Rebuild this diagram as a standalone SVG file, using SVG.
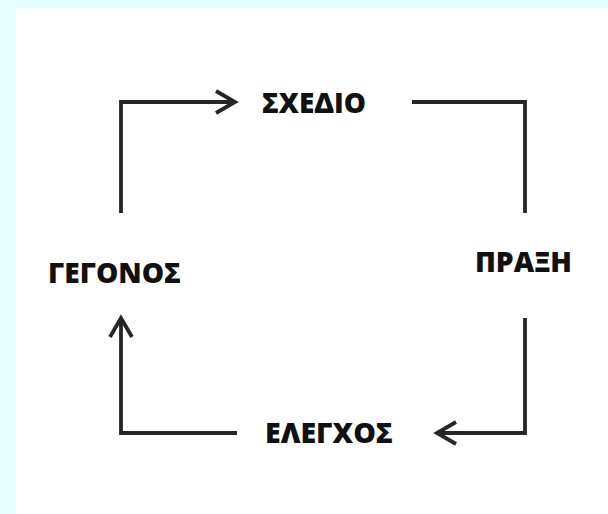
<svg xmlns="http://www.w3.org/2000/svg" width="608" height="514" viewBox="0 0 608 514">
  <defs>
    <style>
      .lbl { font-family: "Open Sans", "Liberation Sans", sans-serif; font-weight: 800; font-size: 28.5px; fill: #111; }
      .conn { fill: none; stroke: #262626; stroke-width: 3.8; stroke-linejoin: miter; }
    </style>
    <marker id="arr" markerUnits="userSpaceOnUse" viewBox="0 0 26 26" markerWidth="26" markerHeight="26" refX="22" refY="13" orient="auto">
      <path d="M3,2 L22,13 L3,24" fill="none" stroke="#262626" stroke-width="3.8" stroke-linejoin="miter"/>
    </marker>
  </defs>
  <rect x="0" y="0" width="608" height="514" fill="#e6ffff"/>
  <rect x="15" y="8" width="593" height="506" fill="#ffffff"/>

  <g id="connectors">
    <path class="conn" d="M121,213 V102 H235" marker-end="url(#arr)"/>
    <path class="conn" d="M412,102 H525 V213"/>
    <path class="conn" d="M525,318 V433 H437" marker-end="url(#arr)"/>
    <path class="conn" d="M237,433 H121 V318" marker-end="url(#arr)"/>
  </g>

  <g id="node-sxedio">
    <text class="lbl" x="262" y="113" textLength="104" lengthAdjust="spacingAndGlyphs">ΣΧΕΔΙΟ</text>
  </g>
  <g id="node-praxi">
    <text class="lbl" x="475" y="272" textLength="97" lengthAdjust="spacingAndGlyphs">ΠΡΑΞΗ</text>
  </g>
  <g id="node-elegxos">
    <text class="lbl" x="265" y="443" textLength="128" lengthAdjust="spacingAndGlyphs">ΕΛΕΓΧΟΣ</text>
  </g>
  <g id="node-gegonos">
    <text class="lbl" x="48" y="283" textLength="133" lengthAdjust="spacingAndGlyphs">ΓΕΓΟΝΟΣ</text>
  </g>
</svg>
